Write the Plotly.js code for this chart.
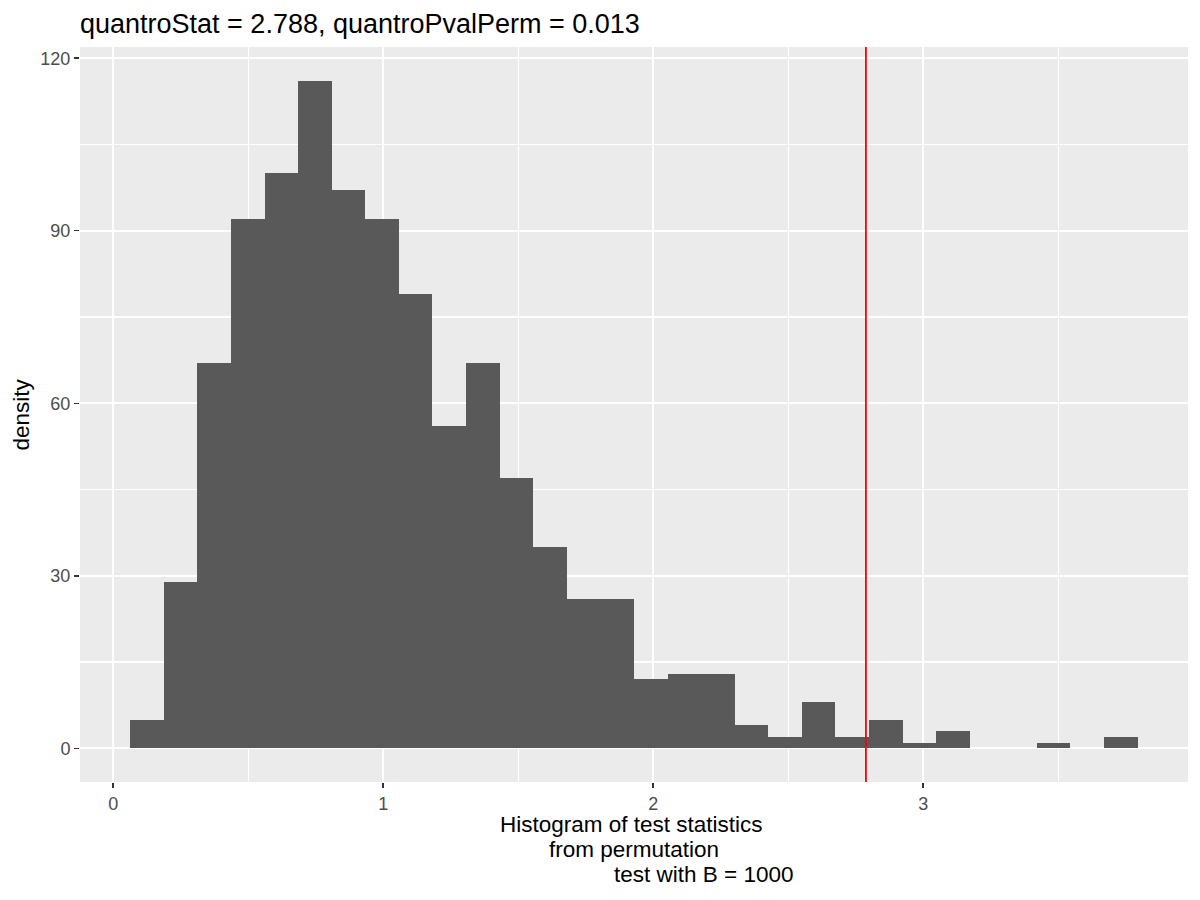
<!DOCTYPE html>
<html>
<head>
<meta charset="utf-8">
<script src="https://cdn.plot.ly/plotly-3.0.1.min.js"></script>
<style>
  html, body { margin: 0; padding: 0; background: #fff; }
  #chart { width: 1200px; height: 900px; }
</style>
</head>
<body>
<div id="chart"></div>
<script>
// permutation test statistics, 30 bins (ggplot default)
const binStart = 0.0633;
const binWidth = 0.12437;
const binCounts = [5, 29, 67, 92, 100, 116, 97, 92, 79, 56,
                   67, 47, 35, 26, 26, 12, 13, 13, 4, 2,
                   8, 2, 5, 1, 3, 0, 0, 1, 0, 2];
const quantroStat = 2.788;
const quantroPvalPerm = 0.013;
const xTicks = [0, 1, 2, 3];
const yTicks = [0, 30, 60, 90, 120];

const font = '"Liberation Sans", Arial, sans-serif';

const trace = {
    type: 'bar',
    x0: binStart + binWidth / 2,
    dx: binWidth,
    y: binCounts,
    width: binWidth,
    marker: { color: '#595959', line: { width: 0 } },
    hoverinfo: 'x+y'
};

const layout = {
    width: 1200,
    height: 900,
    margin: { l: 80, r: 12, t: 47, b: 118 },
    paper_bgcolor: '#ffffff',
    plot_bgcolor: '#EBEBEB',
    showlegend: false,
    bargap: 0,
    font: { family: font },
    title: {
        text: 'quantroStat = ' + quantroStat + ', quantroPvalPerm = ' + quantroPvalPerm,
        font: { size: 27, color: '#000000', family: font },
        xref: 'container', x: 80 / 1200, xanchor: 'left',
        yref: 'container', y: 0.974, yanchor: 'middle'
    },
    xaxis: {
        range: [-0.123, 3.981],
        tickvals: xTicks,
        ticktext: xTicks.map(String),
        ticks: 'outside', ticklen: 5, tickwidth: 1.5, tickcolor: '#333333',
        tickfont: { size: 18, color: '#4D4D4D' },
        showgrid: true, gridcolor: '#ffffff', gridwidth: 2.2,
        minor: { dtick: 0.5, tick0: 0, showgrid: true, gridcolor: '#ffffff', gridwidth: 1.1 },
        zeroline: false, showline: false
    },
    yaxis: {
        range: [-5.86, 121.95],
        tickvals: yTicks,
        ticktext: yTicks.map(String),
        ticks: 'outside', ticklen: 5, tickwidth: 1.5, tickcolor: '#333333',
        tickfont: { size: 18, color: '#4D4D4D' },
        showgrid: true, gridcolor: '#ffffff', gridwidth: 2.2,
        minor: { dtick: 15, tick0: 0, showgrid: true, gridcolor: '#ffffff', gridwidth: 1.1 },
        zeroline: false, showline: false
    },
    shapes: [{
        type: 'line', layer: 'above',
        xref: 'x', yref: 'paper',
        x0: quantroStat, x1: quantroStat, y0: 0, y1: 1,
        line: { color: '#FF0000', width: 1.8 }
    }],
    annotations: [
        { text: 'Histogram of test statistics', xref: 'paper', yref: 'paper',
          x: 0.4977, y: -0.0585, xanchor: 'center', yanchor: 'middle', showarrow: false,
          font: { size: 22.5, color: '#000000' } },
        { text: 'from permutation', xref: 'paper', yref: 'paper',
          x: 0.5, y: -0.0925, xanchor: 'center', yanchor: 'middle', showarrow: false,
          font: { size: 22.5, color: '#000000' } },
        { text: 'test with B = 1000', xref: 'paper', yref: 'paper',
          x: 0.5623, y: -0.1265, xanchor: 'center', yanchor: 'middle', showarrow: false,
          font: { size: 22.5, color: '#000000' } },
        { text: 'density', xref: 'paper', yref: 'paper',
          x: -0.0532, y: 0.5, xanchor: 'center', yanchor: 'middle', showarrow: false,
          textangle: -90, font: { size: 22.5, color: '#000000' } }
    ]
};

Plotly.newPlot('chart', [trace], layout, { displayModeBar: false, staticPlot: true });
</script>
</body>
</html>
